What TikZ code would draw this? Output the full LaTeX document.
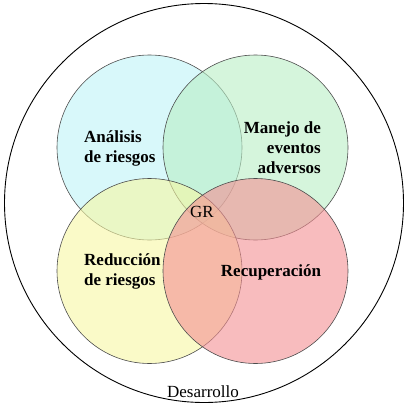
\documentclass[tikz,border=0pt]{standalone}
\usepackage{fontspec}
\setmainfont{Liberation Serif}
\definecolor{cyanf}{rgb}{0.745,0.955,0.967}
\definecolor{greenf}{rgb}{0.725,0.935,0.772}
\definecolor{yellowf}{rgb}{0.967,0.967,0.640}
\definecolor{pinkf}{rgb}{0.955,0.562,0.575}
\tikzset{
  area/.style={circle, draw=black!70, line width=0.6pt, fill opacity=0.6,
    minimum size=185pt, inner sep=0pt},
  areatext/.style={font=\fontsize{17}{20}\selectfont\bfseries, inner sep=0pt},
  plaintext/.style={font=\fontsize{17}{20}\selectfont, inner sep=0pt}
}
\begin{document}
\begin{tikzpicture}[x=1pt,y=-1pt]
  \useasboundingbox (0,0) rectangle (408,413);
  \node[circle, draw, line width=0.9pt, minimum size=399pt, inner sep=0pt] (dev) at (204,203) {};
  \begin{scope}
    \node[area, fill=cyanf] (ana) at (149.5,147.5) {};
    \node[area, fill=greenf] (man) at (255.5,147.5) {};
    \node[area, fill=yellowf] (red) at (149.5,271) {};
    \node[area, fill=pinkf] (rec) at (255.5,271) {};
  \end{scope}
  \node[areatext, anchor=west, align=left] (tana) at (84,148) {Análisis\\de riesgos};
  \node[areatext, anchor=east, align=right] (tman) at (321,148) {Manejo de\\eventos\\adversos};
  \node[areatext, anchor=west, align=left] (tred) at (84,271) {Reducción\\de riesgos};
  \node[areatext] (trec) at (271,272) {Recuperación};
  \node[plaintext] (gr) at (202,212) {GR};
  \node[plaintext] (tdev) at (203,392) {Desarrollo};
\end{tikzpicture}
\end{document}
